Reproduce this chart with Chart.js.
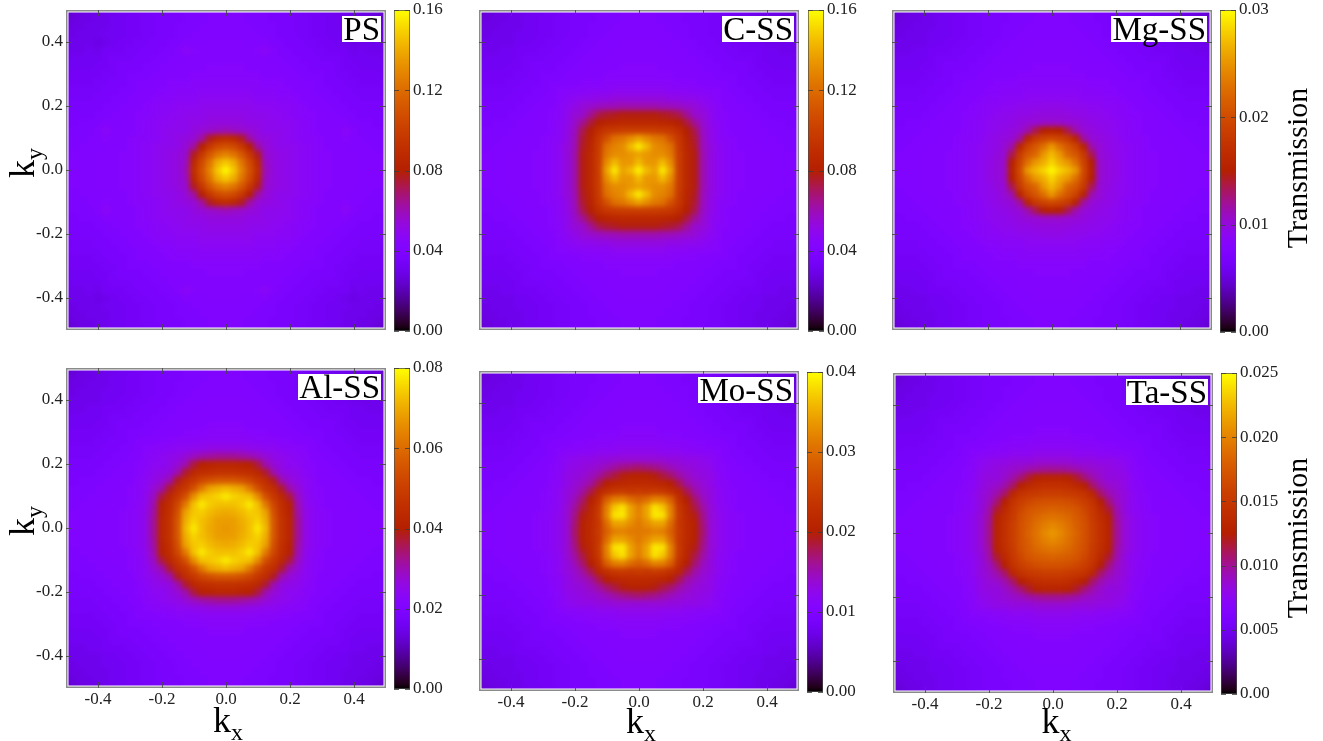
<!DOCTYPE html>
<html>
<head>
<meta charset="utf-8">
<script src="https://cdn.jsdelivr.net/npm/chart.js@4/dist/chart.umd.min.js"></script>
<style>
html,body{margin:0;padding:0;background:#fff;}
#page{position:relative;width:1323px;height:741px;overflow:hidden;font-family:"Liberation Serif","Times New Roman",serif;color:#000;background:#fff;}
#page canvas{position:absolute;}
#page canvas.cells{filter:blur(2.5px);}
.lbl{position:absolute;white-space:nowrap;line-height:1;transform:translate(-50%,-50%);}
.rot{transform:translate(-50%,-50%) rotate(-90deg);}
.sub{font-size:24px;position:relative;top:8px;}
.ttl{position:absolute;background:#fff;font-size:33px;line-height:26px;height:26px;padding:0 1px;white-space:nowrap;}
</style>
</head>
<body>
<div id="page"></div>
<script>
// ---------------- data ----------------
// k-grid step; cells sit at (i*kStep, j*kStep), i,j = -20..20
const kStep = 0.025;
const kTicks = [-0.4, -0.2, 0, 0.2, 0.4];
const panelNames = ['PS', 'C-SS', 'Mg-SS', 'Al-SS', 'Mo-SS', 'Ta-SS'];
// colour-bar ranges (top value of each colour bar)
const cbMax = [0.16, 0.16, 0.03, 0.08, 0.04, 0.025];
const cbTickValues = [
  [0, 0.04, 0.08, 0.12, 0.16],
  [0, 0.04, 0.08, 0.12, 0.16],
  [0, 0.01, 0.02, 0.03],
  [0, 0.02, 0.04, 0.06, 0.08],
  [0, 0.01, 0.02, 0.03, 0.04],
  [0, 0.005, 0.01, 0.015, 0.02, 0.025]
];
const cbTickLabels = [
  ['0.00', '0.04', '0.08', '0.12', '0.16'],
  ['0.00', '0.04', '0.08', '0.12', '0.16'],
  ['0.00', '0.01', '0.02', '0.03'],
  ['0.00', '0.02', '0.04', '0.06', '0.08'],
  ['0.00', '0.01', '0.02', '0.03', '0.04'],
  ['0.00', '0.005', '0.010', '0.015', '0.020', '0.025']
];
// The maps are symmetric under kx<->-kx, ky<->-ky, kx<->ky, so one octant is stored:
// row a = max(|i|,|j|), column b = min(|i|,|j|).
const psLevels = [
  [99],
  [92,88],
  [80,77,70],
  [68,66,60,50],
  [56,54,48,39,34],
  [37,36,35,34,33,31],
  [33,33,33,32,32,31,31],
  [32,32,32,31,31,31,30,30],
  [31,31,31,31,30,30,30,29,29],
  [30,30,30,30,29,29,29,28,28,27],
  [29,29,29,29,28,28,28,27,27,26,26],
  [28,28,28,28,28,27,27,27,26,26,25,25],
  [27,27,27,27,27,26,26,26,25,25,24,24,24],
  [27,27,27,26,26,26,26,25,25,24,24,23,23,23],
  [26,26,26,26,26,26,25,25,24,24,23,23,22,22,22],
  [26,26,26,26,27,29,26,24,24,23,23,22,22,21,21,21],
  [26,26,26,25,25,26,24,24,23,23,22,22,21,21,20,19,18],
  [25,25,25,25,25,24,24,23,23,22,22,21,21,20,20,20,19,19],
  [25,25,25,25,24,24,24,23,23,22,22,21,21,20,20,19,19,19,18],
  [25,25,25,24,24,24,23,23,23,22,22,21,21,20,20,19,19,18,18,17],
  [25,25,25,24,24,24,23,23,22,22,21,21,20,20,19,19,18,18,17,16,13]
];
const cssLevels = [
  [98],
  [90,84],
  [86,84,82],
  [97,90,82,80],
  [86,82,78,76,68],
  [62,62,62,61,60,56],
  [54,54,54,53,52,50,46],
  [49,49,49,48,47,45,40,35],
  [38,38,38,37,37,36,35,34,32],
  [33,33,33,33,32,32,31,31,30,29],
  [30,30,30,30,29,29,29,28,28,27,27],
  [28,28,28,28,28,27,27,27,26,26,25,25],
  [27,27,27,27,27,26,26,26,25,25,24,24,24],
  [27,27,27,26,26,26,26,25,25,24,24,23,23,23],
  [26,26,26,26,26,25,25,25,24,24,23,23,22,22,22],
  [26,26,26,26,25,25,25,24,24,23,23,22,22,21,21,21],
  [26,26,26,25,25,25,24,24,23,23,22,22,21,21,20,20,19],
  [25,25,25,25,25,24,24,23,23,22,22,21,21,20,20,20,19,19],
  [25,25,25,25,24,24,24,23,23,22,22,21,21,20,20,19,19,19,18],
  [25,25,25,24,24,24,23,23,23,22,22,21,21,20,20,19,19,18,18,17],
  [25,25,25,24,24,24,23,23,22,22,21,21,20,20,19,19,18,18,17,16,14]
];
const mgLevels = [
  [99],
  [94,88],
  [90,84,74],
  [84,76,70,64],
  [66,64,61,52,39],
  [51,50,45,38,34,33],
  [35,35,34,34,33,32,31],
  [33,33,33,32,32,31,31,30],
  [32,32,31,31,31,30,30,29,29],
  [30,30,30,30,29,29,29,28,28,27],
  [29,29,29,29,28,28,28,27,27,26,26],
  [28,28,28,28,28,27,27,27,26,26,25,25],
  [27,27,27,27,27,26,26,26,25,25,24,24,24],
  [27,27,27,26,26,26,26,25,25,24,24,23,23,23],
  [26,26,26,26,26,25,25,25,24,24,23,23,22,22,22],
  [26,26,26,26,25,25,25,24,24,23,23,22,22,21,21,21],
  [26,26,26,25,25,25,24,24,23,23,22,22,21,21,20,20,19],
  [25,25,25,25,25,24,24,23,23,22,22,21,21,20,20,20,19,19],
  [25,25,25,25,24,24,24,23,23,22,22,21,21,20,20,19,19,19,18],
  [25,25,25,24,24,24,23,23,23,22,22,21,21,20,20,19,19,18,18,17],
  [25,25,25,24,24,24,23,23,22,22,21,21,20,20,19,19,18,18,17,16,14]
];
const alLevels = [
  [84],
  [85,85],
  [87,88,90],
  [91,91,93,97],
  [97,94,92,91,82],
  [90,88,86,78,68,60],
  [70,70,68,65,60,56,48],
  [58,58,57,56,54,47,38,33],
  [53,53,52,51,46,38,34,32,30],
  [40,40,39,38,36,34,32,31,30,29],
  [32,32,32,31,31,30,30,29,28,28,27],
  [29,29,29,29,28,28,28,27,27,26,26,25],
  [28,28,28,27,27,27,26,26,25,25,24,24,24],
  [27,27,27,26,26,26,26,25,25,24,24,23,23,23],
  [26,26,26,26,26,25,25,25,24,24,23,23,22,22,22],
  [26,26,26,26,25,25,25,24,24,23,23,22,22,21,21,21],
  [26,26,26,25,25,25,24,24,23,23,22,22,21,21,20,20,19],
  [25,25,25,25,25,24,24,23,23,22,22,21,21,20,20,20,19,19],
  [25,25,25,25,24,24,24,23,23,22,22,21,21,20,20,19,19,19,18],
  [25,25,25,24,24,24,23,23,23,22,22,21,21,20,20,19,19,18,18,17],
  [25,25,25,24,24,24,23,23,22,22,21,21,20,20,19,19,18,18,17,16,14]
];
const moLevels = [
  [78],
  [78,82],
  [80,86,97],
  [79,86,96,92],
  [72,75,80,79,72],
  [61,60,61,60,57,53],
  [55,55,54,53,50,45,39],
  [51,51,49,46,43,39,36,34],
  [43,42,41,39,37,35,34,33,32],
  [34,34,34,34,33,33,32,32,31,30],
  [31,31,31,30,30,30,29,29,28,28,27],
  [29,29,29,29,28,28,28,27,27,26,26,25],
  [28,28,28,27,27,27,26,26,25,25,24,24,24],
  [27,27,27,26,26,26,26,25,25,24,24,23,23,23],
  [26,26,26,26,26,25,25,25,24,24,23,23,22,22,22],
  [26,26,26,26,25,25,25,24,24,23,23,22,22,21,21,21],
  [26,26,26,25,25,25,24,24,23,23,22,22,21,21,20,20,19],
  [25,25,25,25,25,24,24,23,23,22,22,21,21,20,20,20,19,19],
  [25,25,25,25,24,24,24,23,23,22,22,21,21,20,20,19,19,19,18],
  [25,25,25,24,24,24,23,23,23,22,22,21,21,20,20,19,19,18,18,17],
  [25,25,25,24,24,24,23,23,22,22,21,21,20,20,19,19,18,18,17,16,14]
];
const taLevels = [
  [84],
  [81,79],
  [77,76,74],
  [73,72,71,69],
  [68,68,67,65,62],
  [62,62,61,60,58,53],
  [57,57,56,54,50,43,38],
  [52,52,51,47,42,38,35,33],
  [40,40,39,38,36,35,34,33,32],
  [34,34,34,33,33,33,32,32,31,30],
  [31,31,31,30,30,30,29,29,28,28,27],
  [29,29,29,29,28,28,28,27,27,26,26,25],
  [28,28,28,27,27,27,26,26,25,25,24,24,24],
  [27,27,27,26,26,26,26,25,25,24,24,23,23,23],
  [26,26,26,26,26,25,25,25,24,24,23,23,22,22,22],
  [26,26,26,26,25,25,25,24,24,23,23,22,22,21,21,21],
  [26,26,26,25,25,25,24,24,23,23,22,22,21,21,20,20,19],
  [25,25,25,25,25,24,24,23,23,22,22,21,21,20,20,20,19,19],
  [25,25,25,25,24,24,24,23,23,22,22,21,21,20,20,19,19,19,18],
  [25,25,25,24,24,24,23,23,23,22,22,21,21,20,20,19,19,18,18,17],
  [25,25,25,24,24,24,23,23,22,22,21,21,20,20,19,19,18,18,17,16,14]
];
const panelLevels = [psLevels, cssLevels, mgLevels, alLevels, moLevels, taLevels];

// ---------------- layout (pixel positions of frames / colour bars) ----------------
const layout = [
  {fx:66,  fy:10,  cbx:394,  cbt:10,  cbb:331, showX:false, showY:true},
  {fx:479, fy:10,  cbx:808,  cbt:10,  cbb:331, showX:false, showY:false},
  {fx:892, fy:10,  cbx:1220, cbt:10,  cbb:332, showX:false, showY:false},
  {fx:66,  fy:368, cbx:394,  cbt:368, cbb:689, showX:true,  showY:true},
  {fx:479, fy:371, cbx:807,  cbt:372, cbb:692, showX:true,  showY:false},
  {fx:893, fy:373, cbx:1221, cbt:373, cbb:694, showX:true,  showY:false}
];
const FONT = '"Liberation Serif","Times New Roman",serif';
const page = document.getElementById('page');

// gnuplot default pm3d palette (rgbformulae 7,5,15)
function palette(f) {
  f = Math.min(1, Math.max(0, f));
  const r = Math.sqrt(f), g = f * f * f, b = Math.max(0, Math.sin(2 * Math.PI * f));
  return 'rgb(' + Math.round(r * 255) + ',' + Math.round(g * 255) + ',' + Math.round(b * 255) + ')';
}

function buildCells(levels, max) {
  const n = levels.length - 1;
  const pts = [];
  for (let i = -n; i <= n; i++) {
    for (let j = -n; j <= n; j++) {
      const a = Math.max(Math.abs(i), Math.abs(j)), b = Math.min(Math.abs(i), Math.abs(j));
      pts.push({x: i * kStep, y: j * kStep, v: levels[a][b] / 100 * max});
    }
  }
  return pts;
}

function zeroPad(s) { s.paddingTop = 0; s.paddingBottom = 0; s.paddingLeft = 0; s.paddingRight = 0; }

// white gap + grey frame + inward ticks on all four sides
const frameTicks = {
  id: 'frameTicks',
  beforeDraw(chart) {
    const {ctx, chartArea: a} = chart;
    ctx.save();
    ctx.fillStyle = '#fff';
    ctx.beginPath();
    ctx.rect(a.left - 11, a.top - 11, a.right - a.left + 22, a.bottom - a.top + 22);
    ctx.rect(a.left + 2.5, a.top + 2.5, a.right - a.left - 5, a.bottom - a.top - 5);
    ctx.fill('evenodd');
    ctx.restore();
  },
  afterDraw(chart) {
    const {ctx, chartArea: a, scales: {x, y}} = chart;
    ctx.save();
    ctx.strokeStyle = '#8a8a8a';
    ctx.lineWidth = 1.5;
    ctx.strokeRect(a.left + 0.75, a.top + 0.75, a.right - a.left - 1.5, a.bottom - a.top - 1.5);
    ctx.strokeStyle = 'rgba(70,70,70,0.85)';
    ctx.lineWidth = 1;
    ctx.beginPath();
    kTicks.forEach(v => {
      const px = Math.round(x.getPixelForValue(v)) + 0.5;
      ctx.moveTo(px, a.bottom); ctx.lineTo(px, a.bottom - 6);
      ctx.moveTo(px, a.top); ctx.lineTo(px, a.top + 6);
      const py = Math.round(y.getPixelForValue(v)) + 0.5;
      ctx.moveTo(a.left, py); ctx.lineTo(a.left + 6, py);
      ctx.moveTo(a.right, py); ctx.lineTo(a.right - 6, py);
    });
    ctx.stroke();
    ctx.restore();
  }
};

const cbTicks = {
  id: 'cbTicks',
  afterDatasetsDraw(chart) {
    const {ctx, chartArea: a, scales: {y}} = chart;
    ctx.save();
    ctx.strokeStyle = 'rgba(60,60,60,0.8)';
    ctx.lineWidth = 1;
    ctx.beginPath();
    y.ticks.forEach(t => {
      const py = Math.round(y.getPixelForValue(t.value)) + 0.5;
      ctx.moveTo(a.left, py); ctx.lineTo(a.left + 5, py);
      ctx.moveTo(a.right - 5, py); ctx.lineTo(a.right, py);
    });
    ctx.stroke();
    ctx.restore();
  }
};

function heatChart(idx, cellsLayer) {
  const p = layout[idx], max = cbMax[idx];
  const L = 50, T = 12, R = 12, B = 32;
  const cv = document.createElement('canvas');
  if (cellsLayer) cv.className = 'cells';
  cv.width = 320 + L + R; cv.height = 320 + T + B;
  cv.style.left = (p.fx - L) + 'px'; cv.style.top = (p.fy - T) + 'px';
  page.appendChild(cv);
  const cellRadius = ctx => {
    const s = ctx.chart.scales.x;
    return (Math.abs(s.getPixelForValue(kStep) - s.getPixelForValue(0)) + 0.8) / Math.SQRT2;
  };
  const tickFont = {family: FONT, size: 17};
  const datasets = cellsLayer ? [{
      data: buildCells(panelLevels[idx], max),
      pointStyle: 'rect',
      pointRadius: cellRadius,
      pointHoverRadius: cellRadius,
      backgroundColor: ctx => palette(ctx.raw.v / max),
      borderWidth: 0,
      clip: 4
    }] : [];
  new Chart(cv, {
    type: 'scatter',
    data: {datasets},
    options: {
      responsive: false, animation: false, events: [],
      plugins: {legend: {display: false}, tooltip: {enabled: false}},
      layout: {padding: {top: T, right: R, left: 0, bottom: 0}},
      scales: {
        x: {type: 'linear', min: -0.5, max: 0.5,
            afterBuildTicks: s => { s.ticks = kTicks.map(v => ({value: v})); },
            afterFit: s => { s.height = B; zeroPad(s); },
            grid: {display: false, drawTicks: false}, border: {display: false},
            ticks: {display: !cellsLayer && p.showX, padding: 1, font: tickFont, color: '#222', maxRotation: 0,
                    callback: v => v.toFixed(1)}},
        y: {type: 'linear', min: -0.5, max: 0.5,
            afterBuildTicks: s => { s.ticks = kTicks.map(v => ({value: v})); },
            afterFit: s => { s.width = L; zeroPad(s); },
            grid: {display: false, drawTicks: false}, border: {display: false},
            ticks: {display: !cellsLayer && p.showY, padding: 3, font: tickFont, color: '#222',
                    callback: v => v.toFixed(1)}}
      }
    },
    plugins: cellsLayer ? [] : [frameTicks]
  });
}

function colorBar(idx) {
  const p = layout[idx], max = cbMax[idx];
  const vals = cbTickValues[idx], labs = cbTickLabels[idx];
  const T = 12, B = 12, W = 16, LW = 50;
  const cv = document.createElement('canvas');
  cv.width = W + LW; cv.height = (p.cbb - p.cbt) + T + B;
  cv.style.left = p.cbx + 'px'; cv.style.top = (p.cbt - T) + 'px';
  page.appendChild(cv);
  new Chart(cv, {
    type: 'bar',
    data: {labels: [''], datasets: [{
      data: [max],
      backgroundColor: c => {
        const a = c.chart.chartArea;
        if (!a) return '#000';
        const g = c.chart.ctx.createLinearGradient(0, a.bottom, 0, a.top);
        for (let k = 0; k <= 64; k++) g.addColorStop(k / 64, palette(k / 64));
        return g;
      },
      borderColor: '#4a4a4a', borderWidth: 1, borderSkipped: false,
      barPercentage: 1, categoryPercentage: 1
    }]},
    options: {
      responsive: false, animation: false, events: [],
      plugins: {legend: {display: false}, tooltip: {enabled: false}},
      layout: {padding: {top: T, bottom: B, left: 0, right: 0}},
      scales: {
        x: {display: false},
        y: {position: 'right', min: 0, max: max,
            afterBuildTicks: s => { s.ticks = vals.map(v => ({value: v})); },
            afterFit: s => { s.width = LW; zeroPad(s); },
            grid: {display: false, drawTicks: false}, border: {display: false},
            ticks: {padding: 3, font: {family: FONT, size: 17}, color: '#222',
                    callback: (v, i) => labs[i]}}
      }
    },
    plugins: [cbTicks]
  });
}

function addLabel(html, cx, cy, size, rotated) {
  const d = document.createElement('div');
  d.className = 'lbl' + (rotated ? ' rot' : '');
  d.style.left = cx + 'px'; d.style.top = cy + 'px'; d.style.fontSize = size + 'px';
  d.innerHTML = html;
  page.appendChild(d);
}

for (let i = 0; i < 6; i++) heatChart(i, true);
for (let i = 0; i < 6; i++) heatChart(i, false);
for (let i = 0; i < 6; i++) {
  colorBar(i);
  const p = layout[i];
  const t = document.createElement('div');
  t.className = 'ttl';
  t.textContent = panelNames[i];
  t.style.right = (1323 - (p.fx + 320 - 5)) + 'px';
  t.style.top = (p.fy + 6) + 'px';
  page.appendChild(t);
}
addLabel('k<span class="sub">y</span>', 21.5, 163, 36, true);
addLabel('k<span class="sub">y</span>', 21.5, 521, 36, true);
addLabel('k<span class="sub">x</span>', 228, 719.5, 36, false);
addLabel('k<span class="sub">x</span>', 641, 721, 36, false);
addLabel('k<span class="sub">x</span>', 1056.5, 721, 36, false);
addLabel('Transmission', 1296.5, 168, 30, true);
addLabel('Transmission', 1296.5, 537.5, 30, true);
</script>
</body>
</html>
